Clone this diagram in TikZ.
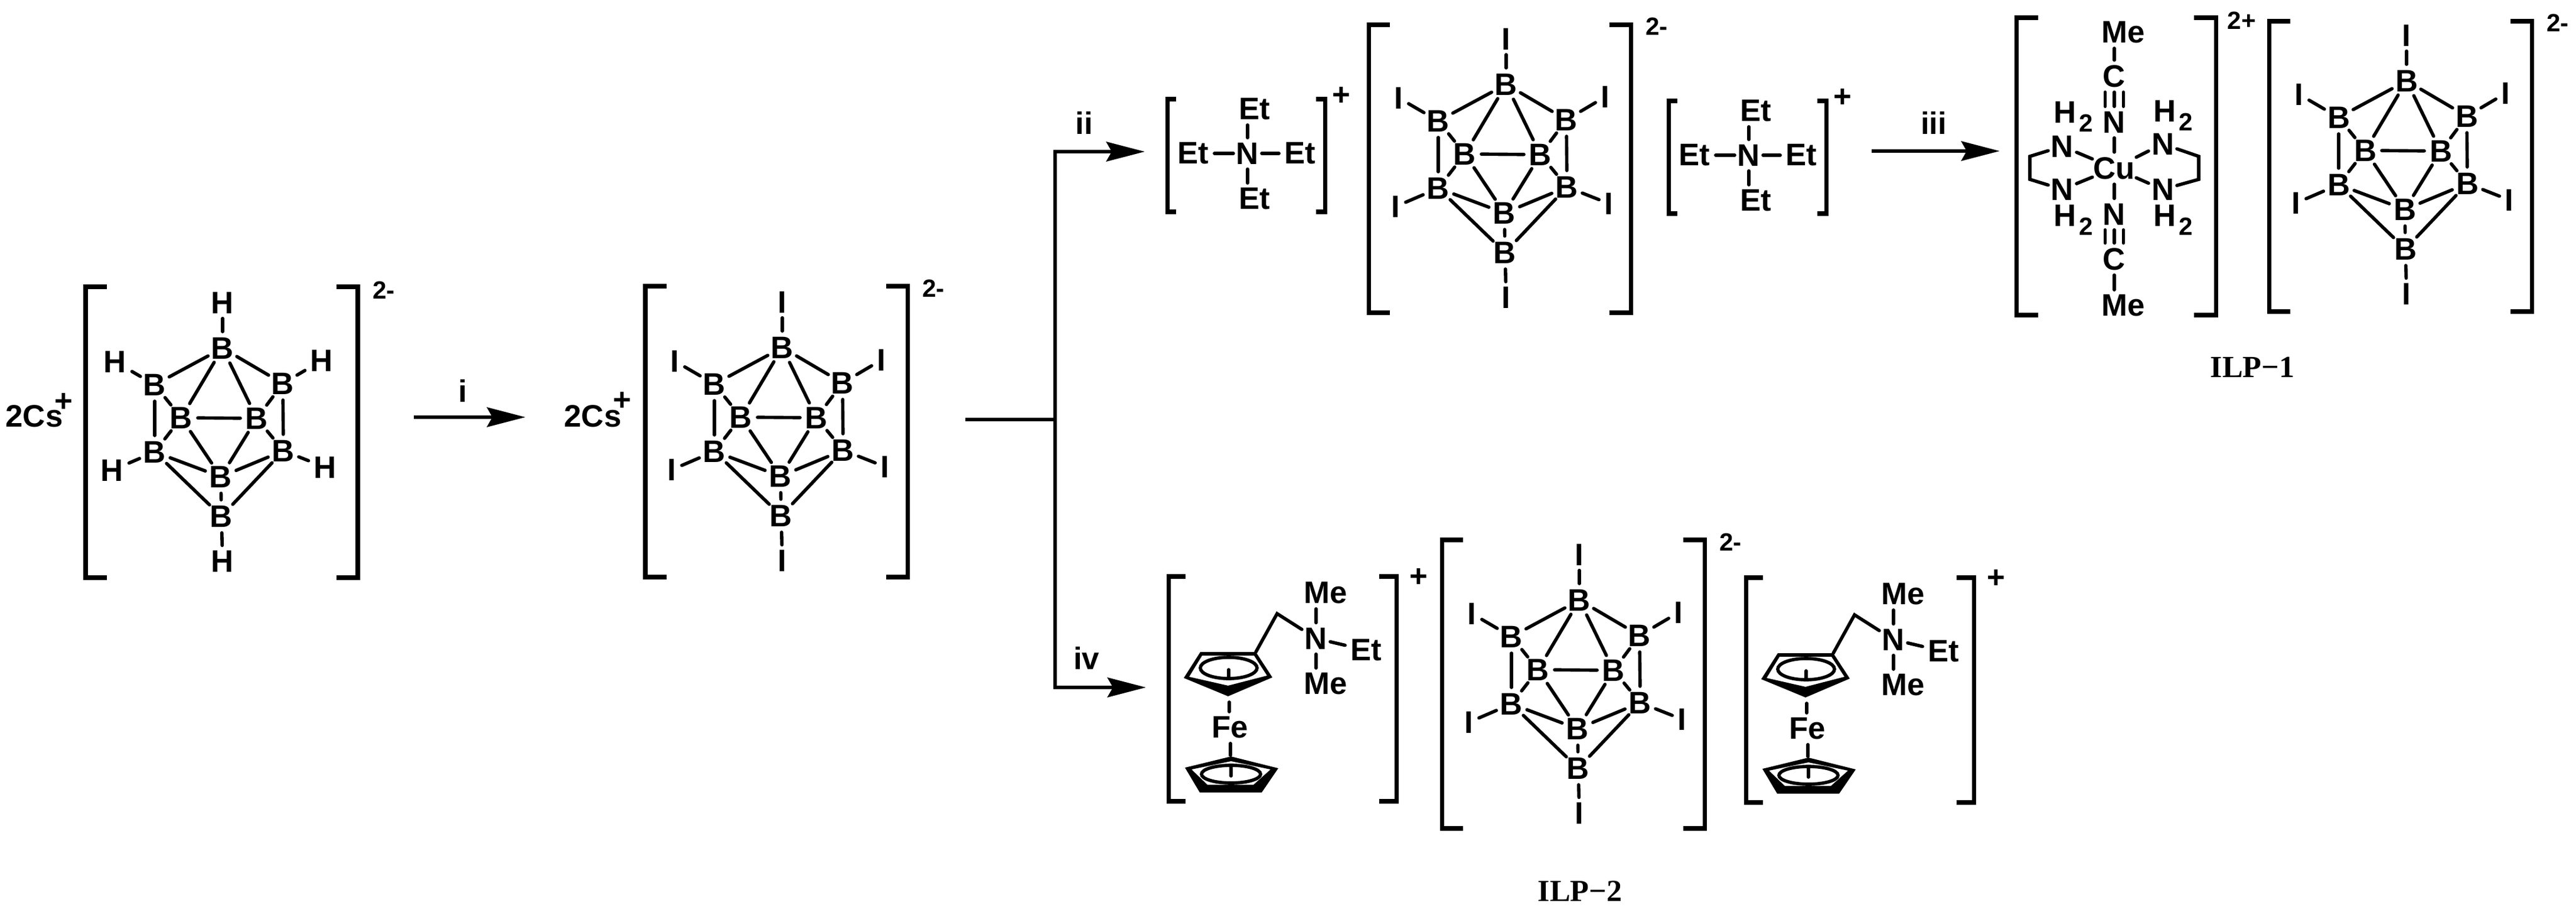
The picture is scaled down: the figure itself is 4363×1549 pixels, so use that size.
\documentclass[tikz,border=0pt]{standalone}
\usepackage{fontspec}
\setmainfont{Liberation Sans}
\newfontfamily\serifbold{Liberation Serif}
\usetikzlibrary{arrows.meta}
\newcommand{\atomfont}{\fontsize{15}{16}\selectfont\bfseries}
\newcommand{\smallfont}{\fontsize{12}{13}\selectfont\bfseries}
\tikzstyle{boron} = [circle, inner sep=0pt, outer sep=0pt, minimum size=0.56cm, font=\atomfont]
\tikzstyle{atom} = [rectangle, inner xsep=0.095cm, inner ysep=0.085cm, outer sep=0pt, font=\atomfont]
\tikzstyle{nitro} = [atom, inner xsep=0.05cm]
\tikzstyle{metal} = [atom, inner xsep=0.02cm]
\tikzstyle{amine} = [anchor=base west, inner sep=0pt, outer sep=0pt, font=\atomfont]
\tikzstyle{charge} = [inner sep=0pt, font=\smallfont]
\tikzstyle{plus} = [inner sep=0pt, font=\atomfont]
\tikzstyle{compound} = [inner sep=0pt, font=\fontsize{14.8}{16}\selectfont\serifbold\bfseries]
\tikzstyle{bond} = [line width=1.6pt, line cap=round, line join=miter]
\tikzstyle{brack} = [line width=2pt, line join=miter]
\tikzstyle{stem} = [line width=1.85pt]
\tikzstyle{arrow} = [line width=1.85pt, -{Stealth[length=0.65cm, width=0.33cm, inset=0.09cm]}]

\newcommand{\brackets}[5]{
\draw [brack] (#1+#5,#3) -- (#1,#3) -- (#1,#4) -- (#1+#5,#4);
\draw [brack] (#2-#5,#3) -- (#2,#3) -- (#2,#4) -- (#2-#5,#4);
}

\newcommand{\boracage}[4]{
\begin{scope}[shift={(#2,#3)}]
\node (#1top) [boron] at (0,-142) {B};
\node (#1ul) [boron] at (-115,-80) {B};
\node (#1ur) [boron] at (102,-82) {B};
\node (#1ml) [boron] at (-70,-24) {B};
\node (#1mr) [boron] at (58,-23) {B};
\node (#1ll) [boron] at (-115,34) {B};
\node (#1lr) [boron] at (103,32) {B};
\node (#1ib) [boron] at (-3,76) {B};
\node (#1bot) [boron] at (-2,143) {B};
\node (#1xtop) [atom] at (0,-219) {#4};
\node (#1xul) [atom] at (-182,-119) {#4};
\node (#1xur) [atom] at (168,-121) {#4};
\node (#1xll) [atom] at (-187,65) {#4};
\node (#1xlr) [atom] at (174,60) {#4};
\node (#1xbot) [atom] at (0,219) {#4};
\foreach \a/\b in {top/ul,top/ur,top/ml,top/mr,ul/ll,ur/lr,ul/ml,ur/mr,ml/ll,mr/lr,ml/mr,ml/ib,mr/ib,ll/ib,lr/ib,ll/bot,lr/bot,ib/bot,top/xtop,ul/xul,ur/xur,ll/xll,lr/xlr,bot/xbot}
  \draw [bond] (#1\a) -- (#1\b);
\end{scope}
}

\newcommand{\ammonium}[3]{
\begin{scope}[shift={(#2,#3)}]
\brackets{1977}{2244}{168}{359}{15}
\node (#1n) [nitro] at (2113,260) {N};
\node (#1a) [atom] at (2125,185) {Et};
\node (#1b) [atom] at (2125,337) {Et};
\node (#1c) [atom] at (2021,260) {Et};
\node (#1d) [atom] at (2202,260) {Et};
\node (#1p) [plus] at (2272,163) {+};
\draw [bond] (#1n.north) -- (#1n.north |- #1a.south);
\draw [bond] (#1n.south) -- (#1n.south |- #1b.north);
\draw [bond] (#1n) -- (#1c);
\draw [bond] (#1n) -- (#1d);
\end{scope}
}

\newcommand{\ferrocation}[3]{
\begin{scope}[shift={(#2,#3)}]
\brackets{1979}{2365}{977}{1358}{29}
% upper ring
\fill [even odd rule] (2033,1105) -- (2127,1105) -- (2155,1148) -- (2080,1180) -- (2005,1149) -- cycle
  (2036,1111) -- (2124,1111) -- (2146,1145) -- (2080,1162) -- (2014,1147) -- cycle;
\draw [bond] (2081,1132) ellipse [x radius=0.48cm, y radius=0.18cm];
\coordinate (#1i) at (2081,1135);
\coordinate (#1j) at (2081,1150);
\draw [bond] (#1i) -- (#1j);
% lower ring
\fill [even odd rule] (2007,1301) -- (2085,1282) -- (2165,1302) -- (2137,1343) -- (2032,1343) -- cycle
  (2018,1304) -- (2085,1290) -- (2152,1304) -- (2123,1330) -- (2045,1330) -- cycle;
\draw [bond] (2085,1312) ellipse [x radius=0.5cm, y radius=0.15cm];
\coordinate (#1k) at (2085,1298);
\coordinate (#1l) at (2085,1315);
\draw [bond] (#1k) -- (#1l);
\node (#1fe) [atom] at (2083,1233) {Fe};
\coordinate (#1up) at (2082,1190);
\coordinate (#1dn) at (2084,1280);
\draw [bond] (#1up) -- (#1up |- #1fe.north);
\draw [bond] (#1dn) -- (#1dn |- #1fe.south);
\node (#1n) [nitro] at (2229,1082) {N};
\node (#1a) [atom] at (2245,1005) {Me};
\node (#1b) [atom] at (2245,1159) {Me};
\node (#1c) [atom] at (2314,1102) {Et};
\node (#1p) [plus] at (2403,979) {+};
\coordinate (#1cp) at (2127,1105);
\coordinate (#1ch) at (2163,1040);
\draw [bond] (#1cp) -- (#1ch) -- (#1n);
\draw [bond] (#1n.north) -- (#1n.north |- #1a.south);
\draw [bond] (#1n.south) -- (#1n.south |- #1b.north);
\draw [bond] (#1n) -- (#1c);
\end{scope}
}

\begin{document}
\begin{tikzpicture}[x=0.01cm, y=-0.01cm]
\useasboundingbox (0,0) rectangle (4363,1549);

% starting salt
\node (csa) [atom] at (58,705) {2Cs};
\node (csap) [plus] at (108,682) {+};
\brackets{145}{606}{486}{979}{36}
\boracage{h}{377}{732}{H}
\node (chh) [charge] at (650,492) {2-};

\coordinate (ia) at (701,707);
\coordinate (ib) at (890,707);
\draw [arrow] (ia) -- (ib);
\node (il) [plus] at (784,662) {i};

\node (csb) [atom] at (1004,705) {2Cs};
\node (csbp) [plus] at (1054,680) {+};
\brackets{1093}{1537}{485}{978}{36}
\boracage{c}{1325}{731}{I}
\node (chc) [charge] at (1581,489) {2-};

% branch
\coordinate (sa) at (1635,711);
\coordinate (sb) at (1787,711);
\coordinate (iia) at (1939,257);
\coordinate (iva) at (1941,1165);
\draw [stem] (sa) -- (sb);
\draw [arrow] (sb) |- (iia);
\draw [arrow] (sb) |- (iva);
\node (ii) [plus] at (1836,208) {ii};
\node (iv) [plus] at (1840,1115) {iv};

% top row
\ammonium{am}{0}{0}
\brackets{2318}{2762}{42}{530}{36}
\boracage{t}{2551}{285}{I}
\node (cht) [charge] at (2806,45) {2-};
\ammonium{bm}{849}{3}

\coordinate (iiia) at (3170,256);
\coordinate (iiib) at (3387,256);
\draw [arrow] (iiia) -- (iiib);
\node (iii) [plus] at (3275,208) {iii};

% copper complex
\brackets{3415}{3753}{30}{534}{37}
\node (cu) [metal] at (3581,285) {Cu};
\node (nu) [atom] at (3581,207) {N};
\node (nd) [atom] at (3581,363) {N};
\node (cu2) [atom] at (3581,129) {C};
\node (cd) [atom] at (3581,439) {C};
\node (meu) [atom] at (3596,55) {Me};
\node (med) [atom] at (3596,518) {Me};
\node (nul) [nitro] at (3493,248) {N};
\node (nll) [nitro] at (3493,321) {N};
\node (nur) [nitro] at (3663,244) {N};
\node (nlr) [nitro] at (3663,321) {N};
\node (hul) [amine] at (3478,209) {H\hspace{0.05cm}\raisebox{-0.14cm}{\smallfont 2}};
\node (hll) [amine] at (3478,384) {H\hspace{0.05cm}\raisebox{-0.14cm}{\smallfont 2}};
\node (hur) [amine] at (3647,207) {H\hspace{0.05cm}\raisebox{-0.14cm}{\smallfont 2}};
\node (hlr) [amine] at (3647,384) {H\hspace{0.05cm}\raisebox{-0.14cm}{\smallfont 2}};
\draw [bond] (cu) -- (nu);
\draw [bond] (cu) -- (nd);
\draw [bond] (cu) -- (nul);
\draw [bond] (cu) -- (nll);
\draw [bond] (cu) -- (nur);
\draw [bond] (cu) -- (nlr);
\draw [bond] (cu2.north) -- (cu2.north |- meu.south);
\draw [bond] (cd.south) -- (cd.south |- med.north);
\foreach \s in {-0.155cm,0cm,0.155cm} {
  \draw [bond] ([xshift=\s]cu2.south) -- ([xshift=\s]nu.north);
  \draw [bond] ([xshift=\s]nd.south) -- ([xshift=\s]cd.north);
}
\coordinate (ela) at (3438,265);
\coordinate (elb) at (3438,304);
\coordinate (era) at (3724,265);
\coordinate (erb) at (3724,304);
\draw [bond] (nul) -- (ela) -- (elb) -- (nll);
\draw [bond] (nur) -- (era) -- (erb) -- (nlr);
\node (chcu) [charge] at (3797,35) {2+};
\brackets{3843}{4288}{36}{528}{36}
\boracage{r}{4076}{279}{I}
\node (chr) [charge] at (4332,39) {2-};
\node (ilpa) [compound] at (3815,622) {ILP−1};

% bottom row
\ferrocation{fa}{0}{0}
\brackets{2442}{2887}{915}{1404}{36}
\boracage{b}{2675}{1159}{I}
\node (chb) [charge] at (2931,919) {2-};
\ferrocation{fb}{978}{2}
\node (ilpb) [compound] at (2676,1510) {ILP−2};

\end{tikzpicture}
\end{document}
